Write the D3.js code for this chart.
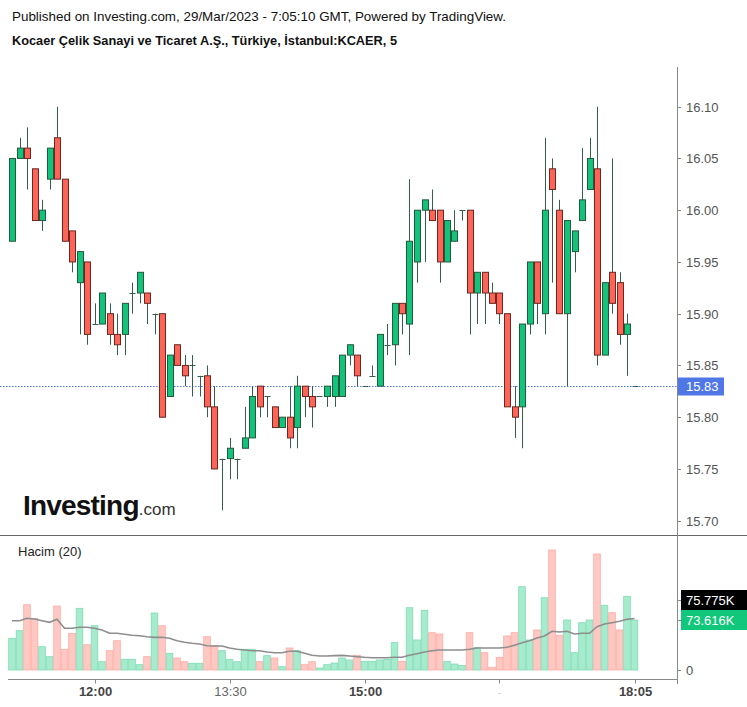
<!DOCTYPE html>
<html>
<head>
<meta charset="utf-8">
<script src="https://cdn.jsdelivr.net/npm/d3@7/dist/d3.min.js"></script>
<style>
  html, body { margin: 0; padding: 0; background: #fff; }
  svg { display: block; font-family: "Liberation Sans", Arial, sans-serif; }
</style>
</head>
<body>
<svg id="chart" width="747" height="707"></svg>
<script>
// ---- DATA ----
const openP  = [15.97,16.05,16.06,16.04,15.99,16.03,16.07,16.03,15.98,15.93,15.95,15.89,15.89,15.90,15.88,15.88,15.92,15.92,15.92,15.90,
                15.90,15.82,15.87,15.85,15.85,15.84,15.84,15.81,15.76,15.76,15.76,15.77,15.78,15.83,15.82,15.81,15.79,15.80,15.79,15.83,
                15.82,15.82,15.82,15.82,15.82,15.86,15.86,15.83,15.84,15.83,15.87,15.87,15.91,15.89,15.95,16.00,16.00,16.00,15.95,15.97,
                16.00,16.00,15.92,15.94,15.92,15.92,15.90,15.81,15.81,15.89,15.95,15.90,16.04,16.00,15.90,15.96,15.99,16.02,16.04,15.86,
                15.94,15.93,15.88,15.83];
const highP  = [16.05,16.07,16.08,16.04,16.01,16.06,16.10,16.03,15.98,15.96,15.95,15.91,15.92,15.91,15.90,15.91,15.93,15.94,15.92,15.90,
                15.90,15.86,15.87,15.86,15.86,15.84,15.85,15.83,15.76,15.78,15.76,15.81,15.83,15.83,15.82,15.81,15.80,15.83,15.84,15.83,
                15.83,15.82,15.83,15.84,15.86,15.87,15.86,15.83,15.85,15.88,15.89,15.91,15.91,16.03,16.00,16.01,16.02,16.00,15.99,16.00,
                16.00,16.00,15.94,15.94,15.93,15.92,15.90,15.83,15.89,15.95,15.95,16.07,16.05,16.01,15.99,15.98,16.06,16.07,16.10,15.93,
                16.05,15.94,15.90,15.83];
const lowP   = [15.97,16.05,16.02,15.99,15.98,16.02,16.03,15.97,15.94,15.88,15.87,15.89,15.89,15.87,15.86,15.86,15.90,15.91,15.89,15.88,
                15.80,15.82,15.85,15.83,15.82,15.82,15.80,15.75,15.71,15.74,15.74,15.77,15.78,15.80,15.80,15.79,15.79,15.77,15.77,15.80,
                15.79,15.82,15.81,15.81,15.82,15.85,15.83,15.83,15.84,15.83,15.86,15.85,15.88,15.86,15.93,15.95,15.99,15.93,15.95,15.97,
                15.99,15.88,15.89,15.89,15.91,15.89,15.81,15.78,15.77,15.88,15.89,15.88,15.93,15.90,15.83,15.94,15.99,16.02,15.85,15.86,
                15.90,15.87,15.84,15.83];
const closeP = [16.05,16.06,16.05,15.99,16.00,16.06,16.03,15.97,15.95,15.96,15.88,15.89,15.92,15.88,15.87,15.91,15.92,15.94,15.91,15.90,
                15.80,15.86,15.85,15.84,15.85,15.84,15.81,15.75,15.76,15.77,15.76,15.78,15.82,15.81,15.82,15.79,15.80,15.78,15.83,15.82,
                15.81,15.82,15.83,15.84,15.86,15.87,15.84,15.83,15.84,15.88,15.87,15.91,15.90,15.97,16.00,16.01,15.99,15.95,15.99,15.98,
                16.00,15.92,15.94,15.92,15.91,15.90,15.81,15.80,15.89,15.95,15.91,16.00,16.02,15.90,15.99,15.98,16.01,16.05,15.86,15.93,
                15.91,15.88,15.89,15.83];
// volume in thousands
const volumeK = [46.7,57.9,96.1,76.0,34.3,19.6,94.2,30.5,54.0,90.8,37.2,65.2,12.2,28.4,43.1,15.8,15.8,7.8,19.6,83.9,
                 65.2,24.6,17.7,12.2,9.9,9.9,49.0,35.8,28.4,15.8,12.2,30.5,30.5,12.2,21.1,17.7,4.9,32.4,28.4,7.8,
                 12.2,2.9,7.8,10.3,17.7,14.7,21.6,12.8,12.8,14.7,15.8,40.2,12.8,91.7,44.2,87.9,54.9,53.0,12.8,8.8,
                 6.9,54.9,33.4,25.5,4.0,18.7,50.1,54.9,122.6,44.2,58.9,106.4,176.7,51.1,73.6,25.5,69.6,73.6,170.8,95.3,
                 84.4,58.9,108.5,73.616];
// volume 20-period average (thousands)
const volumeMaK = [72.6,72.6,76.1,75.1,72.6,70.2,74.6,61.4,61.4,62.9,62.9,61.4,58.9,54.0,54.0,52.6,51.1,50.5,49.0,48.1,
                   48.1,46.7,43.1,40.8,39.3,38.3,35.8,35.3,35.3,32.4,30.5,29.4,28.4,28.4,26.5,25.5,25.5,27.5,27.5,24.6,
                   21.6,20.6,20.6,21.1,21.6,20.6,19.6,18.7,18.1,18.1,18.1,18.7,18.7,21.6,24.0,26.5,28.4,29.4,29.4,29.4,
                   29.4,30.5,32.4,32.4,32.4,32.4,33.4,36.4,40.2,43.1,47.1,50.1,57.0,55.9,57.0,53.0,54.0,54.0,63.8,67.7,
                   69.6,71.7,74.6,75.775];
const priceTicks = [15.70,15.75,15.80,15.85,15.90,15.95,16.00,16.05,16.10];
const timeTickBar = [11,29,47,65,83];
const timeTickLabel = ["12:00","13:30","15:00","-","18:05"];
const timeTickBold = [true,false,true,false,true];
const lastPrice = 15.83;
const lastVolumeK = 73.616;
const lastVolumeMaK = 75.775;

// ---- LAYOUT ----
const svg = d3.select("#chart");
const axisX = 677;
const n = closeP.length;
const x = d3.scaleLinear().domain([0, n - 1]).range([12, 634.5]);
const y = d3.scaleLinear().domain([15.70, 16.10]).range([520.7, 106.7]);
const yv = d3.scaleLinear().domain([0, lastVolumeK]).range([670, 620]);

const green = "#13c27b", red = "#fb6457";
const greenBorder = "#235a3c", redBorder = "#6e2620";
const wick = "#32604a";

// header
svg.append("text").attr("x", 12).attr("y", 21).attr("font-size", 13.5).attr("fill", "#111")
  .attr("textLength", 494).attr("lengthAdjust", "spacingAndGlyphs")
  .text("Published on Investing.com, 29/Mar/2023 - 7:05:10 GMT, Powered by TradingView.");
svg.append("text").attr("x", 12).attr("y", 45).attr("font-size", 12.7).attr("font-weight", "bold").attr("fill", "#111")
  .attr("textLength", 385).attr("lengthAdjust", "spacingAndGlyphs")
  .text("Kocaer Çelik Sanayi ve Ticaret A.Ş., Türkiye, İstanbul:KCAER, 5");

// logo
const logo = svg.append("text").attr("x", 23).attr("y", 515);
logo.append("tspan").attr("font-size", 28).attr("font-weight", "bold").attr("fill", "#111").attr("letter-spacing", -0.8).text("Investing");
logo.append("tspan").attr("font-size", 17).attr("fill", "#333").text(".com");

// pane lines
svg.append("line").attr("x1", 0).attr("x2", 747).attr("y1", 535.5).attr("y2", 535.5).attr("stroke", "#666").attr("stroke-width", 1);
svg.append("line").attr("x1", 8).attr("x2", axisX).attr("y1", 679.5).attr("y2", 679.5).attr("stroke", "#888").attr("stroke-width", 1);
svg.append("line").attr("x1", axisX + 0.5).attr("x2", axisX + 0.5).attr("y1", 67).attr("y2", 684).attr("stroke", "#888").attr("stroke-width", 1);

// price axis
const pa = svg.append("g");
priceTicks.forEach(p => {
  const yy = Math.round(y(p)) + 0.5;
  pa.append("line").attr("x1", axisX).attr("x2", axisX + 4).attr("y1", yy).attr("y2", yy).attr("stroke", "#888");
  pa.append("text").attr("x", 686).attr("y", yy + 4.5).attr("font-size", 13).attr("fill", "#555").text(p.toFixed(2));
});

// last price line + label
const yl = Math.round(y(lastPrice)) + 0.5;
svg.append("line").attr("x1", 0).attr("x2", axisX).attr("y1", yl).attr("y2", yl)
  .attr("stroke", "#4f78e6").attr("stroke-width", 1).attr("stroke-dasharray", "1.5,1.5");
svg.append("rect").attr("x", axisX + 1).attr("y", yl - 9).attr("width", 46).attr("height", 18).attr("fill", "#4f78e6");
svg.append("text").attr("x", 686).attr("y", yl + 4.5).attr("font-size", 13).attr("fill", "#fff").text(lastPrice.toFixed(2));

// candles
const cg = svg.append("g");
for (let i = 0; i < n; i++) {
  const up = closeP[i] >= openP[i];
  const cx = Math.round(x(i)) + 0.5;
  cg.append("line").attr("x1", cx).attr("x2", cx).attr("y1", y(highP[i])).attr("y2", y(lowP[i]))
    .attr("stroke", wick).attr("stroke-width", 1);
  const top = y(Math.max(openP[i], closeP[i]));
  const bot = y(Math.min(openP[i], closeP[i]));
  if (bot - top < 1) {
    cg.append("line").attr("x1", cx - 3).attr("x2", cx + 3).attr("y1", Math.round(top) + 0.5).attr("y2", Math.round(top) + 0.5)
      .attr("stroke", wick).attr("stroke-width", 1);
  } else {
    cg.append("rect").attr("x", cx - 3).attr("y", top).attr("width", 6).attr("height", bot - top)
      .attr("fill", up ? green : red).attr("stroke", up ? greenBorder : redBorder).attr("stroke-width", 1);
  }
}

// volume pane
svg.append("text").attr("x", 18).attr("y", 556).attr("font-size", 13).attr("fill", "#222").text("Hacim (20)");
const vg = svg.append("g");
for (let i = 0; i < n; i++) {
  const up = closeP[i] >= openP[i];
  const cx = x(i);
  vg.append("rect").attr("x", cx - 3.3).attr("y", yv(volumeK[i])).attr("width", 6.6).attr("height", yv(0) - yv(volumeK[i]))
    .attr("fill", up ? "#a6ebcd" : "#ffc8c3").attr("stroke", up ? "#7edcb3" : "#ffaaa2").attr("stroke-width", 0.8);
}
const maLine = d3.line().x((d, i) => x(i)).y(d => yv(d));
svg.append("path").datum(volumeMaK).attr("d", maLine).attr("fill", "none").attr("stroke", "#8e8e8e").attr("stroke-width", 1.6);

// volume axis labels
svg.append("line").attr("x1", axisX).attr("x2", axisX + 4).attr("y1", yv(0) + 0.5).attr("y2", yv(0) + 0.5).attr("stroke", "#888");
svg.append("text").attr("x", 686).attr("y", yv(0) + 5).attr("font-size", 13).attr("fill", "#555").text("0");
svg.append("rect").attr("x", axisX + 4).attr("y", 590).attr("width", 66).attr("height", 20).attr("fill", "#000");
svg.append("line").attr("x1", axisX).attr("x2", axisX + 4).attr("y1", 600.5).attr("y2", 600.5).attr("stroke", "#888");
svg.append("text").attr("x", 686).attr("y", 605).attr("font-size", 13).attr("fill", "#fff").text(lastVolumeMaK.toFixed(3) + "K");
svg.append("rect").attr("x", axisX + 4).attr("y", 610).attr("width", 66).attr("height", 20).attr("fill", "#10c77b");
svg.append("line").attr("x1", axisX).attr("x2", axisX + 4).attr("y1", 620.5).attr("y2", 620.5).attr("stroke", "#888");
svg.append("text").attr("x", 686).attr("y", 625).attr("font-size", 13).attr("fill", "#fff").text(lastVolumeK.toFixed(3) + "K");

// time axis
timeTickBar.forEach((b, k) => {
  const tx = Math.round(x(b)) + 0.5;
  svg.append("line").attr("x1", tx).attr("x2", tx).attr("y1", 679.5).attr("y2", 683.5).attr("stroke", "#888");
  svg.append("text").attr("x", tx).attr("y", 696).attr("text-anchor", "middle")
    .attr("font-size", timeTickLabel[k] === "-" ? 9 : 13)
    .attr("font-weight", timeTickBold[k] ? "bold" : "normal")
    .attr("fill", timeTickLabel[k] === "-" ? "#bbb" : (timeTickBold[k] ? "#444" : "#666"))
    .text(timeTickLabel[k]);
});
</script>
</body>
</html>
